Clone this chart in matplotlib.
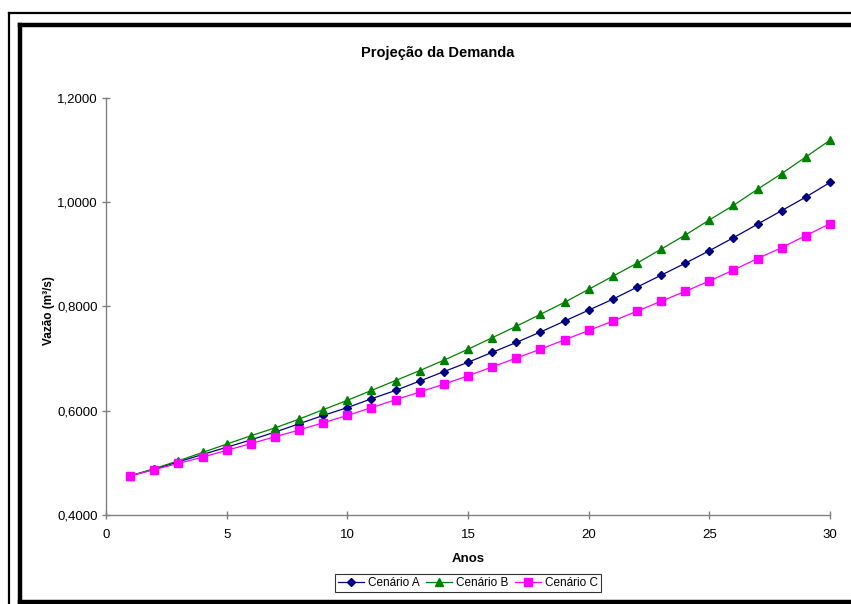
import matplotlib.pyplot as plt
from matplotlib.lines import Line2D
from matplotlib.ticker import FuncFormatter

plt.rcParams['font.family'] = ['Liberation Sans', 'DejaVu Sans']

# dados da projecao (m3/s por ano)
anos = list(range(1, 31))
cenario_a = [0.475, 0.488, 0.502, 0.516, 0.530, 0.544, 0.559, 0.575, 0.591, 0.606,
             0.623, 0.639, 0.657, 0.675, 0.693, 0.712, 0.731, 0.751, 0.772, 0.793,
             0.814, 0.837, 0.860, 0.883, 0.907, 0.932, 0.958, 0.984, 1.010, 1.038]
cenario_b = [0.475, 0.489, 0.504, 0.520, 0.536, 0.552, 0.567, 0.584, 0.602, 0.620,
             0.639, 0.658, 0.677, 0.697, 0.718, 0.740, 0.762, 0.785, 0.808, 0.833,
             0.858, 0.883, 0.910, 0.937, 0.966, 0.994, 1.025, 1.055, 1.087, 1.119]
cenario_c = [0.475, 0.487, 0.499, 0.511, 0.524, 0.537, 0.550, 0.563, 0.577, 0.591,
             0.606, 0.621, 0.636, 0.651, 0.667, 0.684, 0.701, 0.718, 0.736, 0.754,
             0.772, 0.791, 0.810, 0.829, 0.849, 0.870, 0.892, 0.913, 0.936, 0.959]
x_ticks = [0, 5, 10, 15, 20, 25, 30]
y_ticks = [0.4, 0.6, 0.8, 1.0, 1.2]

W, H = 851, 604
fig = plt.figure(figsize=(W / 100, H / 100), dpi=100)
ax = fig.add_axes([106 / W, 1 - 515 / H, 724 / W, 417 / H])

ax.plot(anos, cenario_a, color="#000080", lw=0.9, marker="D", ms=4.5,
        label="Cenário A", clip_on=False)
ax.plot(anos, cenario_b, color="#008000", lw=0.9, marker="^", ms=6,
        label="Cenário B", clip_on=False)
ax.plot(anos, cenario_c, color="#FF00FF", lw=0.9, marker="s", ms=5.5,
        label="Cenário C", clip_on=False)

ax.set_xlim(0, 30)
ax.set_ylim(0.4, 1.2)
ax.set_xticks(x_ticks)
ax.set_yticks(y_ticks)
ax.yaxis.set_major_formatter(FuncFormatter(lambda v, p: f"{v:.4f}".replace(".", ",")))

for s in ["top", "right"]:
    ax.spines[s].set_visible(False)
for s in ["left", "bottom"]:
    ax.spines[s].set_color("#808080")
    ax.spines[s].set_linewidth(1.0)
ax.tick_params(direction="inout", length=6, width=1, color="#808080",
               labelsize=9.5, labelcolor="black")
ax.tick_params(axis="y", pad=3)
ax.tick_params(axis="x", pad=7)

ax.set_xlabel("Anos", fontsize=9.5, fontweight="bold")
ax.set_ylabel("Vazão (m³/s)", fontsize=8.5, fontweight="bold")
ax.xaxis.set_label_coords(0.5, -38 / 417)
ax.yaxis.set_label_coords(-51 / 724, 0.49)
fig.text(438 / W, 1 - 53 / H, "Projeção da Demanda", ha="center", va="center",
         fontsize=10.5, fontweight="bold")

leg = fig.legend(loc="center", bbox_to_anchor=(468 / W, 1 - 583 / H), ncol=3,
                 fontsize=8.5, frameon=True, fancybox=False, handlelength=2.2,
                 handletextpad=0.3, columnspacing=0.6, borderpad=0.25)
leg.get_frame().set_edgecolor("black")
leg.get_frame().set_linewidth(0.8)

# moldura dupla em volta do grafico
def px_line(x0, y0, x1, y1, lw):
    fig.add_artist(Line2D([x0 / W, x1 / W], [1 - y0 / H, 1 - y1 / H],
                          transform=fig.transFigure, color="black", lw=lw,
                          solid_capstyle="projecting"))

px_line(9, 13, W + 5, 13, 1.6)
px_line(9, 13, 9, H + 5, 1.6)
px_line(20, 24.5, W + 5, 24.5, 3.2)
px_line(20, 24.5, 20, 602, 3.2)
px_line(20, 602, W + 5, 602, 3.2)

fig.savefig("out.png", dpi=100)
